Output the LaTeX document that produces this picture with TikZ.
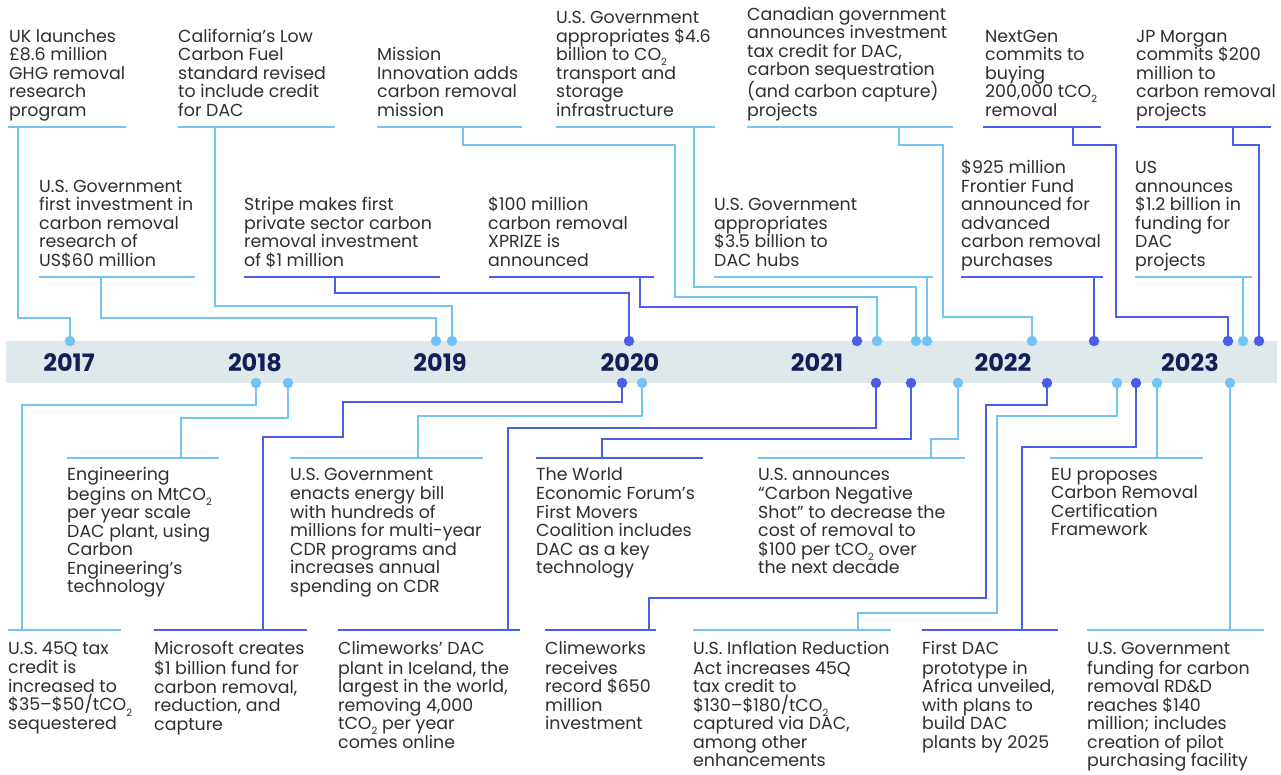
\documentclass[tikz,border=0pt]{standalone}
\usepackage{fontspec}
\setmainfont{Poppins}
\usepackage{tikz}
\usetikzlibrary{calc}

\definecolor{liteblue}{HTML}{72C4F4}
\definecolor{deepblue}{HTML}{4A5EE8}
\definecolor{bandgrey}{HTML}{DFE8EA}
\definecolor{yearnavy}{HTML}{141E57}
\definecolor{inkgrey}{HTML}{2E2E2E}

\newcommand{\evtfont}{\fontsize{17.4}{18.5}\selectfont}
\newcommand{\yrfont}{\fontsize{24}{24}\selectfont\bfseries}
\newcommand{\cotwo}{CO\raisebox{-0.55ex}{\fontsize{10}{10}\selectfont 2}}

\begin{document}
\begin{tikzpicture}[
    x=1pt, y=-1pt,
    evt/.style={
        align=left,
        inner sep=0pt,
        text=inkgrey,
        font=\evtfont
    },
    up/.style={evt, anchor=south west},
    down/.style={evt, anchor=north west},
    lite/.style={draw=liteblue, line width=2.8pt},
    deep/.style={draw=deepblue, line width=2.8pt},
    ldot/.style={
        circle,
        fill=liteblue,
        minimum size=10.5pt,
        inner sep=0pt
    },
    ddot/.style={
        circle,
        fill=deepblue,
        minimum size=10.5pt,
        inner sep=0pt
    },
    yr/.style={font=\yrfont, text=yearnavy, inner sep=0pt}
]
\useasboundingbox (0,0) rectangle (1281,774);

% =========================================================
% Time band with years
% =========================================================
\fill[bandgrey] (6,341) rectangle (1277,383);

\node[yr] (y17) at (69,363)   {2017};
\node[yr] (y18) at (255,363)  {2018};
\node[yr] (y19) at (440,363)  {2019};
\node[yr] (y20) at (630,363)  {2020};
\node[yr] (y21) at (817,363)  {2021};
\node[yr] (y22) at (1003,363) {2022};
\node[yr] (y23) at (1190,363) {2023};

% =========================================================
% Dots on the band
% row 1: top edge (events above)
% row 2: bottom edge (events below)
% =========================================================
\node[ldot] (uk-dot)     at (70,341)   {};
\node[ldot] (usg60-dot)  at (436,341)  {};
\node[ldot] (cal-dot)    at (452,341)  {};
\node[ddot] (stripe-dot) at (629,341)  {};
\node[ddot] (xprize-dot) at (857,341)  {};
\node[ldot] (mis-dot)    at (877,341)  {};
\node[ldot] (co2-dot)    at (916,341)  {};
\node[ldot] (hubs-dot)   at (927,341)  {};
\node[ldot] (can-dot)    at (1032,341) {};
\node[ddot] (front-dot)  at (1094,341) {};
\node[ddot] (nxg-dot)    at (1228,341) {};
\node[ldot] (dac12-dot)  at (1243,341) {};
\node[ddot] (jpm-dot)    at (1259,341) {};

\node[ldot] (q45-dot)     at (256,383)  {};
\node[ldot] (eng-dot)     at (288,383)  {};
\node[ddot] (msft-dot)    at (622,383)  {};
\node[ldot] (bill-dot)    at (642,383)  {};
\node[ddot] (iceland-dot) at (876,383)  {};
\node[ddot] (wef-dot)     at (911,383)  {};
\node[ldot] (cns-dot)     at (958,383)  {};
\node[ddot] (clw-dot)     at (1047,383) {};
\node[ldot] (ira-dot)     at (1117,383) {};
\node[ddot] (afr-dot)     at (1136,383) {};
\node[ldot] (eu-dot)      at (1157,383) {};
\node[ldot] (rdd-dot)     at (1230,383) {};

% =========================================================
% Events above, upper row (underline at 127)
% =========================================================
\node[up] (uk) at (9,122)
    {UK launches\\\pounds8.6 million\\GHG removal\\research\\program\strut};
\draw[lite] (8,127) -- (126,127);
\coordinate (uk-c) at (18,127);

\node[up] (cal) at (178,122)
    {California’s Low\\Carbon Fuel\\standard revised\\to include credit\\for DAC\strut};
\draw[lite] (178,127) -- (335,127);
\coordinate (cal-c) at (215,127);

\node[up] (mis) at (377,122)
    {Mission\\Innovation adds\\carbon removal\\mission\strut};
\draw[lite] (377,127) -- (522,127);
\coordinate (mis-c) at (463,127);

\node[up] (co2) at (556,122)
    {U.S. Government\\appropriates \$4.6\\billion to \cotwo\\transport and\\storage\\infrastructure\strut};
\draw[lite] (556,127) -- (715,127);
\coordinate (co2-c) at (694,127);

\node[up] (can) at (747,122)
    {Canadian government\\announces investment\\tax credit for DAC,\\carbon sequestration\\(and carbon capture)\\projects\strut};
\draw[lite] (747,127) -- (953,127);
\coordinate (can-c) at (899,127);

\node[up] (nxg) at (985,122)
    {NextGen\\commits to\\buying\\200,000 t\cotwo\\removal\strut};
\draw[deep] (983,127) -- (1101,127);
\coordinate (nxg-c) at (1073,127);

\node[up] (jpm) at (1136,122)
    {JP Morgan\\commits \$200\\million to\\carbon removal\\projects\strut};
\draw[deep] (1136,127) -- (1271,127);
\coordinate (jpm-c) at (1233,127);

% =========================================================
% Events above, lower row (underline at 277)
% =========================================================
\node[up] (usg60) at (39,272)
    {U.S. Government\\first investment in\\carbon removal\\research of\\US\$60 million\strut};
\draw[lite] (39,277) -- (195,277);
\coordinate (usg60-c) at (101,277);

\node[up] (stripe) at (244,272)
    {Stripe makes first\\private sector carbon\\removal investment\\of \$1 million\strut};
\draw[deep] (244,277) -- (440,277);
\coordinate (stripe-c) at (335,277);

\node[up] (xprize) at (488,272)
    {\$100 million\\carbon removal\\XPRIZE is\\announced\strut};
\draw[deep] (489,277) -- (654,277);
\coordinate (xprize-c) at (640,277);

\node[up] (hubs) at (714,272)
    {U.S. Government\\appropriates\\\$3.5 billion to\\DAC hubs\strut};
\draw[lite] (714,277) -- (933,277);
\coordinate (hubs-c) at (927,277);

\node[up] (front) at (961,272)
    {\$925 million\\Frontier Fund\\announced for\\advanced\\carbon removal\\purchases\strut};
\draw[deep] (961,277) -- (1103,277);
\coordinate (front-c) at (1094,277);

\node[up] (dac12) at (1135,272)
    {US\\announces\\\$1.2 billion in\\funding for\\DAC\\projects\strut};
\draw[lite] (1135,277) -- (1252,277);
\coordinate (dac12-c) at (1243,277);

% connectors above
\draw[lite] (uk-c) |- (uk-dot |- 0,318) -- (uk-dot);
\draw[lite] (usg60-c) |- (usg60-dot |- 0,318) -- (usg60-dot);
\draw[lite] (cal-c) |- (cal-dot |- 0,306) -- (cal-dot);
\draw[deep] (stripe-c) |- (stripe-dot |- 0,293) -- (stripe-dot);
\draw[lite] (mis-c) |- (675,145) |- (mis-dot |- 0,297) -- (mis-dot);
\draw[lite] (co2-c) |- (co2-dot |- 0,287) -- (co2-dot);
\draw[deep] (xprize-c) |- (xprize-dot |- 0,307) -- (xprize-dot);
\draw[lite] (hubs-c) -- (hubs-dot);
\draw[lite] (can-c) |- (943,145) |- (can-dot |- 0,317) -- (can-dot);
\draw[deep] (front-c) -- (front-dot);
\draw[deep] (nxg-c) |- (1116,145) |- (nxg-dot |- 0,317) -- (nxg-dot);
\draw[lite] (dac12-c) -- (dac12-dot);
\draw[deep] (jpm-c) |- (jpm-dot |- 0,145) -- (jpm-dot);

% =========================================================
% Events below, upper row (underline at 458)
% =========================================================
\node[down] (eng) at (67,467)
    {\strut Engineering\\begins on Mt\cotwo\\per year scale\\DAC plant, using\\Carbon\\Engineering’s\\technology};
\draw[lite] (67,458) -- (219,458);
\coordinate (eng-c) at (181,458);

\node[down] (bill) at (290,467)
    {\strut U.S. Government\\enacts energy bill\\with hundreds of\\millions for multi-year\\CDR programs and\\increases annual\\spending on CDR};
\draw[lite] (290,458) -- (483,458);
\coordinate (bill-c) at (418,458);

\node[down] (wef) at (536,467)
    {\strut The World\\Economic Forum’s\\First Movers\\Coalition includes\\DAC as a key\\technology};
\draw[deep] (536,458) -- (703,458);
\coordinate (wef-c) at (602,458);

\node[down] (cns) at (758,467)
    {\strut U.S. announces\\“Carbon Negative\\Shot” to decrease the\\cost of removal to\\\$100 per t\cotwo{} over\\the next decade};
\draw[lite] (758,458) -- (965,458);
\coordinate (cns-c) at (931,458);

\node[down] (eu) at (1051,467)
    {\strut EU proposes\\Carbon Removal\\Certification\\Framework};
\draw[lite] (1050,458) -- (1203,458);
\coordinate (eu-c) at (1157,458);

% =========================================================
% Events below, lower row (underline at 630)
% =========================================================
\node[down] (q45) at (8,641)
    {\strut U.S. 45Q tax\\credit is\\increased to\\\$35–\$50/t\cotwo\\sequestered};
\draw[lite] (8,630) -- (121,630);
\coordinate (q45-c) at (22,630);

\node[down] (msft) at (154,641)
    {\strut Microsoft creates\\\$1 billion fund for\\carbon removal,\\reduction, and\\capture};
\draw[deep] (154,630) -- (307,630);
\coordinate (msft-c) at (263,630);

\node[down] (iceland) at (338,641)
    {\strut Climeworks’ DAC\\plant in Iceland, the\\largest in the world,\\removing 4,000\\t\cotwo{} per year\\comes online};
\draw[deep] (338,630) -- (520,630);
\coordinate (iceland-c) at (508,630);

\node[down] (clw) at (545,641)
    {\strut Climeworks\\receives\\record \$650\\million\\investment};
\draw[deep] (545,630) -- (656,630);
\coordinate (clw-c) at (649,630);

\node[down] (ira) at (693,641)
    {\strut U.S. Inflation Reduction\\Act increases 45Q\\tax credit to\\\$130–\$180/t\cotwo\\captured via DAC,\\among other\\enhancements};
\draw[lite] (693,630) -- (891,630);
\coordinate (ira-c) at (858,630);

\node[down] (afr) at (922,641)
    {\strut First DAC\\prototype in\\Africa unveiled,\\with plans to\\build DAC\\plants by 2025};
\draw[deep] (922,630) -- (1058,630);
\coordinate (afr-c) at (1022,630);

\node[down] (rdd) at (1087,641)
    {\strut U.S. Government\\funding for carbon\\removal RD\&D\\reaches \$140\\million; includes\\creation of pilot\\purchasing facility};
\draw[lite] (1087,630) -- (1264,630);
\coordinate (rdd-c) at (1230,630);

% connectors below
\draw[lite] (q45-c) |- (q45-dot |- 0,405) -- (q45-dot);
\draw[lite] (eng-c) |- (eng-dot |- 0,418) -- (eng-dot);
\draw[deep] (msft-c) |- (343,437) |- (msft-dot |- 0,402) -- (msft-dot);
\draw[lite] (bill-c) |- (bill-dot |- 0,416) -- (bill-dot);
\draw[deep] (iceland-c) |- (iceland-dot |- 0,428) -- (iceland-dot);
\draw[deep] (wef-c) |- (wef-dot |- 0,439) -- (wef-dot);
\draw[lite] (cns-c) |- (cns-dot |- 0,439) -- (cns-dot);
\draw[deep] (clw-c) |- (986,598) |- (clw-dot |- 0,405) -- (clw-dot);
\draw[lite] (ira-c) |- (997,613) |- (ira-dot |- 0,416) -- (ira-dot);
\draw[deep] (afr-c) |- (afr-dot |- 0,447) -- (afr-dot);
\draw[lite] (eu-c) -- (eu-dot);
\draw[lite] (rdd-c) -- (rdd-dot);

\end{tikzpicture}
\end{document}
